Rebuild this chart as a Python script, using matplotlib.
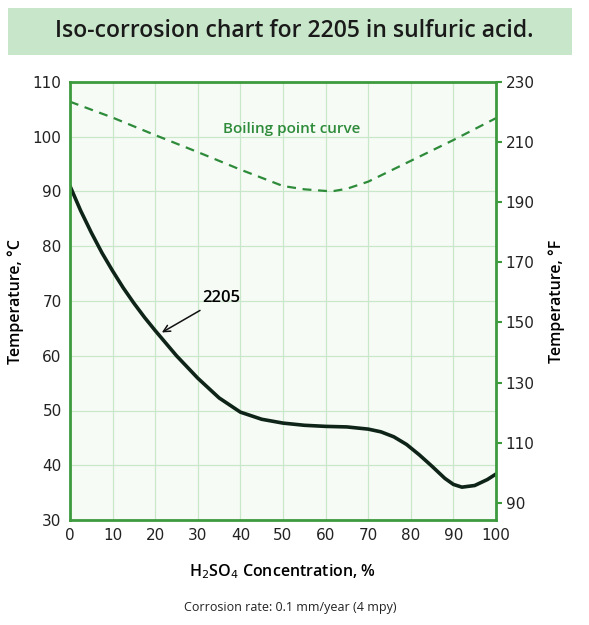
import matplotlib.pyplot as plt
from matplotlib.patches import Rectangle

# 2205 iso-corrosion line, 0.1 mm/year
conc = [0, 2.5, 5, 7.5, 10, 12.5, 15, 17.5, 20, 25, 30, 35, 40, 45, 50, 55, 60, 65, 70, 73, 76, 79, 82, 85, 88, 90, 92, 95, 98, 100]
temp = [91, 86.5, 82.5, 78.8, 75.5, 72.4, 69.6, 67.0, 64.6, 60.0, 55.9, 52.3, 49.7, 48.4, 47.7, 47.3, 47.1, 47.0, 46.6, 46.1, 45.2, 43.8, 41.9, 39.8, 37.6, 36.5, 36.0, 36.3, 37.4, 38.4]

# boiling point curve
bp_conc = [0, 10, 20, 30, 40, 50, 55, 60, 62, 65, 70, 80, 90, 100]
bp_temp = [106.4, 103.5, 100.3, 97.2, 94.0, 91.0, 90.4, 90.1, 90.1, 90.5, 91.8, 95.6, 99.4, 103.4]

green = "#3d9a3d"
fig = plt.figure(figsize=(5.89, 6.25), dpi=100)
fig.patch.set_facecolor("white")

# title band
fig.patches.append(Rectangle((8/589, 1-55/625), 564/589, 47/625, transform=fig.transFigure,
                             facecolor="#c8e6c9", edgecolor="none"))
fig.text(0.5, 1-31/625, "Iso-corrosion chart for 2205 in sulfuric acid.", ha="center", va="center",
         fontsize=16.5, fontweight="semibold", color="#1a1a1a", family="Open Sans")

ax = fig.add_axes([70/589, 105/625, 426/589, 438/625])
ax.set_facecolor("#f6fbf6")
ax.plot(conc, temp, color="#0f2418", lw=2.6, solid_capstyle="round", solid_joinstyle="round")
ax.plot(bp_conc, bp_temp, color="#2e8b3a", lw=1.6, ls=(0, (4, 3)))
ax.set_xlim(0, 100)
ax.set_ylim(30, 110)
ax.set_xticks(range(0, 101, 10))
ax.set_yticks(range(30, 111, 10))
ax.grid(color="#c9e8c9", lw=0.9)
for s in ax.spines.values():
    s.set_color(green)
    s.set_linewidth(2)
ax.tick_params(labelsize=11, colors="#222222", length=0, pad=6)

ax.text(52, 101.5, "Boiling point curve", color="#2e8b3a", fontsize=11, fontweight="semibold",
        ha="center", va="center", family="Open Sans")
ax.annotate("2205", xy=(21, 64), xytext=(31, 70.5), fontsize=12, fontweight="semibold",
            va="center", family="Open Sans",
            arrowprops=dict(arrowstyle="->", color="#111111", lw=1.1))

ax.set_xlabel("H$_2$SO$_4$ Concentration, %", fontsize=11.5, fontweight="semibold", labelpad=14,
              family="Open Sans")
ax.set_ylabel("Temperature, °C", fontsize=11.5, fontweight="semibold", labelpad=6, family="Open Sans")

ax2 = ax.twinx()
ax2.set_ylim(84.3, 230)
ax2.set_yticks(range(90, 231, 20))
ax2.tick_params(labelsize=11, labelcolor="#222222", color=green, length=4, width=1.5, pad=3)
for s in ax2.spines.values():
    s.set_visible(False)
ax2.set_ylabel("Temperature, °F", fontsize=11.5, fontweight="semibold", labelpad=10, family="Open Sans")

fig.text(290/589, 1-607/625, "Corrosion rate: 0.1 mm/year (4 mpy)", ha="center", va="center",
         fontsize=9, color="#222222", family="Open Sans")

fig.savefig("out.png", dpi=100)
